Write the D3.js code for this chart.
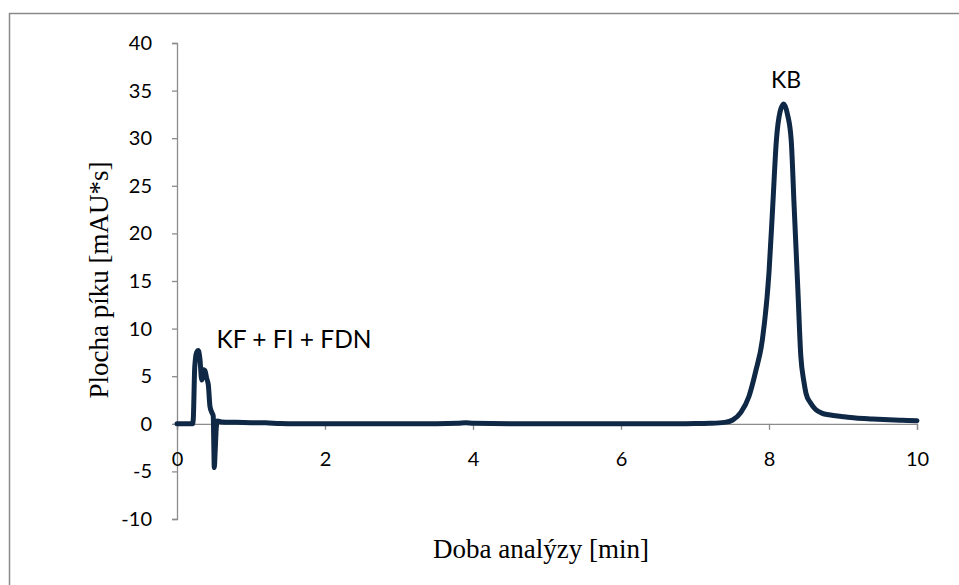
<!DOCTYPE html>
<html>
<head>
<meta charset="utf-8">
<script src="https://cdn.jsdelivr.net/npm/d3@7"></script>
<style>
  html, body { margin: 0; padding: 0; background: #fff; }
  svg { display: block; }
</style>
</head>
<body>
<svg id="chart" width="959" height="585"></svg>
<script>
// ---- data ----
const times = [0, 0.21, 0.22, 0.24, 0.265, 0.288, 0.31, 0.334, 0.35, 0.378, 0.40, 0.423, 0.446, 0.47, 0.49, 0.497, 0.504, 0.515, 0.53, 0.545, 0.6, 0.8, 1.0, 1.2, 1.4, 1.6, 2.0, 2.5, 3.0, 3.5, 3.8, 3.9, 4.0, 4.5, 5.0, 5.5, 6.0, 6.5, 7.0, 7.2, 7.4, 7.51, 7.62, 7.73, 7.82, 7.91, 8.0, 8.05, 8.10, 8.15, 8.2, 8.25, 8.30, 8.34, 8.39, 8.43, 8.47, 8.5, 8.56, 8.63, 8.72, 8.81, 9.0, 9.17, 9.4, 9.62, 9.8, 10.0];
const values = [0, 0, 0.5, 6.0, 7.5, 7.7, 6.8, 4.6, 5.7, 5.6, 4.8, 4.1, 1.8, 1.2, 0.8, -2.0, -4.6, -3.0, -0.5, 0.3, 0.2, 0.15, 0.12, 0.1, 0.02, 0, 0, 0, 0, 0, 0.05, 0.1, 0.05, 0, 0, 0, 0, 0, 0.02, 0.05, 0.15, 0.4, 1.2, 2.9, 5.5, 8.8, 15.9, 22.8, 29.8, 32.8, 33.6, 32.5, 29.8, 22.8, 14.1, 7.1, 4.5, 3.2, 2.2, 1.5, 1.1, 0.95, 0.75, 0.6, 0.5, 0.42, 0.37, 0.32];
const xTicks = [0, 2, 4, 6, 8, 10];
const yTicks = [-10, -5, 0, 5, 10, 15, 20, 25, 30, 35, 40];
const annotations = [
  { label: "KF + FI + FDN", t: 0.535, v: 8.0, anchor: "start", size: 24.5 },
  { label: "KB", t: 8.23, v: 35.3, anchor: "middle", size: 23 }
];
const xTitle = "Doba analýzy [min]";
const yTitle = "Plocha píku [mAU*s]";

// ---- layout ----
const svg = d3.select("#chart");
const axisColor = "#8c8c8c";
const lineColor = "#0f2846";
const sans = "Lato, 'Open Sans', sans-serif";
const serif = "'Liberation Serif', 'Times New Roman', serif";

svg.append("rect")
  .attr("x", 9.5).attr("y", 13.5)
  .attr("width", 980).attr("height", 600)
  .attr("fill", "none").attr("stroke", "#8a8a8a").attr("stroke-width", 1.5);

const x = d3.scaleLinear().domain([0, 10]).range([177, 917]);
const y = d3.scaleLinear().domain([-10, 40]).range([519, 43]);

// y axis
const yAxisG = svg.append("g").attr("transform", `translate(${x(0)},0)`)
  .call(d3.axisLeft(y).tickValues(yTicks).tickSize(5).tickPadding(20).tickFormat(d => String(d)));
yAxisG.select(".domain").attr("stroke", axisColor).attr("stroke-width", 1.3);
yAxisG.selectAll(".tick line").attr("stroke", axisColor).attr("stroke-width", 1.3);
yAxisG.selectAll(".tick text")
  .attr("font-family", sans).attr("font-size", 20).attr("fill", "#000");

// x axis at y=0
const xAxisG = svg.append("g").attr("transform", `translate(0,${y(0)})`)
  .call(d3.axisBottom(x).tickValues(xTicks).tickSize(6).tickPadding(22).tickFormat(d => String(d)));
xAxisG.select(".domain").attr("stroke", axisColor).attr("stroke-width", 1.3);
xAxisG.selectAll(".tick line").attr("stroke", axisColor).attr("stroke-width", 1.3);
xAxisG.selectAll(".tick text")
  .attr("font-family", sans).attr("font-size", 20).attr("fill", "#000");

// line
const data = times.map((t, i) => ({ t, v: values[i] }));
svg.append("path")
  .datum(data)
  .attr("fill", "none")
  .attr("stroke", lineColor)
  .attr("stroke-width", 5)
  .attr("stroke-linejoin", "round")
  .attr("stroke-linecap", "round")
  .attr("d", d3.line().x(d => x(d.t)).y(d => y(d.v)).curve(d3.curveMonotoneX));

// annotations
svg.selectAll("text.ann").data(annotations).enter().append("text")
  .attr("class", "ann")
  .attr("x", d => x(d.t)).attr("y", d => y(d.v))
  .attr("text-anchor", d => d.anchor)
  .attr("font-family", sans).attr("font-size", d => d.size).attr("fill", "#000")
  .text(d => d.label);

// titles
svg.append("text")
  .attr("x", 541).attr("y", 558)
  .attr("text-anchor", "middle")
  .attr("font-family", serif).attr("font-size", 27).attr("fill", "#000")
  .text(xTitle);

svg.append("text")
  .attr("transform", "translate(108,280) rotate(-90)")
  .attr("text-anchor", "middle")
  .attr("font-family", serif).attr("font-size", 27).attr("fill", "#000")
  .text(yTitle);
</script>
</body>
</html>
